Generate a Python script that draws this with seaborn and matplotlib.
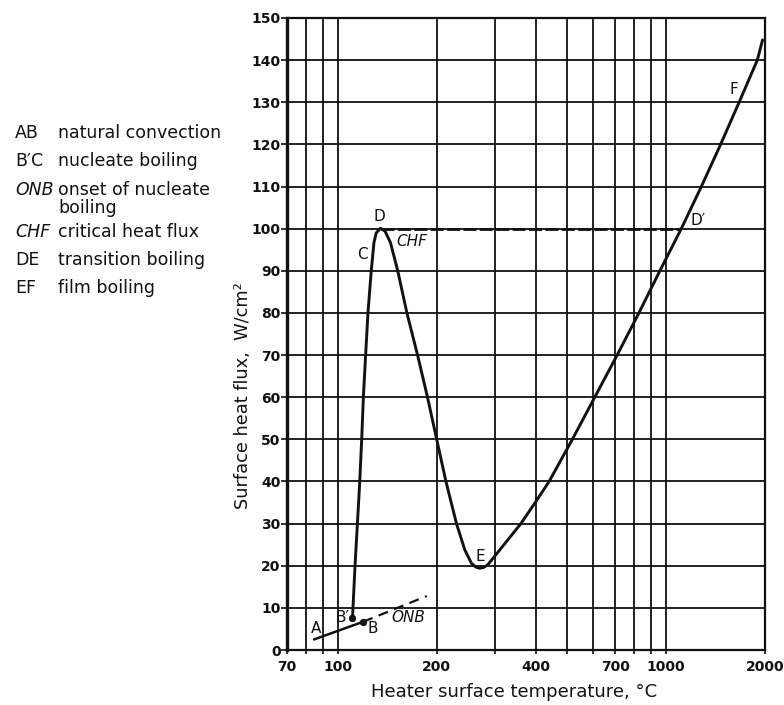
import matplotlib
matplotlib.use("Agg")
import matplotlib.pyplot as plt
from matplotlib.ticker import FixedLocator, NullFormatter, FixedFormatter
import pandas as pd
import seaborn as sns

# Natural convection A-B and its dashed extension (onset of nucleate boiling)
ab_temp = [84.6, 119.4]
ab_flux = [2.5, 6.7]
onb_temp = [119.4, 186.5]
onb_flux = [6.7, 12.8]

# Boiling curve B'-C-D-E-D'-F
boil_temp = [110.8, 112.8, 114.7, 116.6, 118.2, 119.6, 121.5, 123.5, 126.4, 128.8,
             130.9, 134.9, 139.2, 144.6, 152.2, 162.3, 174.9, 187.5, 200, 213.4,
             229.8, 243.5, 255.1, 263, 270.3, 278, 285.8, 300, 361, 400, 440,
             518, 606, 709, 826, 957, 1112, 1280, 1465, 1668, 1895, 1966]
boil_flux = [7.5, 20, 30, 40, 50, 60, 70, 80, 90, 96.7,
             99.0, 100.1, 99.4, 96.7, 90, 80, 70, 60, 50, 40,
             30, 23.8, 20.6, 19.7, 19.4, 19.6, 20.2, 22.2, 30, 35.1, 40,
             50, 60, 70, 80, 90, 100, 110, 120, 130, 140, 144.8]

# Critical heat flux level D - D'
chf_temp = [134.9, 1112]
chf_flux = [100, 100]

# Marked points B' and B
pt_temp = [110.8, 119.4]
pt_flux = [7.5, 6.7]

x_major = [70, 100, 200, 400, 700, 1000, 2000]
x_minor = [80, 90, 300, 500, 600, 800, 900]
y_ticks = list(range(0, 151, 10))

legend_keys = ["AB", "B\u2032C", "ONB", "", "CHF", "DE", "EF"]
legend_desc = ["natural convection", "nucleate boiling", "onset of nucleate",
               "boiling", "critical heat flux", "transition boiling", "film boiling"]
legend_italic = [False, False, True, False, True, False, False]

sns.set_theme(style="ticks")
plt.rcParams["font.family"] = ["DejaVu Sans"]

fig = plt.figure(figsize=(7.84, 7.05), dpi=100)
ax = fig.add_axes([287 / 784, 1 - 650 / 705, (765 - 287) / 784, (650 - 18) / 705])
ax.set_xscale("log")

ink = "#111111"
sns.lineplot(x=ab_temp, y=ab_flux, ax=ax, color=ink, lw=1.8, sort=False, estimator=None)
sns.lineplot(x=onb_temp, y=onb_flux, ax=ax, color=ink, lw=1.6, sort=False,
             estimator=None, linestyle=(0, (4.5, 3)))
sns.lineplot(x=boil_temp, y=boil_flux, ax=ax, color=ink, lw=2.1, sort=False, estimator=None)
sns.lineplot(x=chf_temp, y=chf_flux, ax=ax, color=ink, lw=2.0, sort=False,
             estimator=None, linestyle=(0, (4.7, 1.2)))
sns.scatterplot(x=pt_temp, y=pt_flux, ax=ax, color=ink, s=24, edgecolor=ink, zorder=5)

ax.set_xlim(70, 2000)
ax.set_ylim(0, 150)
ax.xaxis.set_major_locator(FixedLocator(x_major))
ax.xaxis.set_major_formatter(FixedFormatter([str(v) for v in x_major]))
ax.xaxis.set_minor_locator(FixedLocator(x_minor))
ax.xaxis.set_minor_formatter(NullFormatter())
ax.yaxis.set_major_locator(FixedLocator(y_ticks))

ax.grid(True, which="both", axis="x", color=ink, lw=1.3)
ax.grid(True, which="major", axis="y", color=ink, lw=1.3)
ax.set_axisbelow(True)
for s in ax.spines.values():
    s.set_color(ink)
    s.set_linewidth(1.6)
ax.spines["left"].set_linewidth(2.4)

ax.tick_params(axis="y", direction="out", length=4, width=1.2, colors=ink, labelsize=10, pad=0.5)
ax.tick_params(axis="x", which="both", direction="out", length=3, width=1.2, colors=ink,
               labelsize=10, pad=4)
for lab in ax.get_xticklabels() + ax.get_yticklabels():
    lab.set_fontweight("bold")

ax.set_xlabel("Heater surface temperature, \u00b0C", fontsize=13, color=ink, va="center")
ax.xaxis.set_label_coords((514 - 287) / 478, -(692 - 650) / 632)
ax.set_ylabel("Surface heat flux,  W/cm\u00b2", fontsize=12.8, color=ink, va="center")
ax.yaxis.set_label_coords((243 - 287) / 478, (650 - 396) / 632)

# Point labels
lbl = dict(color=ink, fontsize=11, ha="center", va="center")
ax.text(85.8, 5.0, "A", **lbl)
ax.text(103, 7.8, "B\u2032", **lbl)
ax.text(128, 5.0, "B", **lbl)
ax.text(163.5, 7.6, "ONB", style="italic", **lbl)
ax.text(118.4, 93.9, "C", **lbl)
ax.text(133.4, 103.0, "D", **lbl)
ax.text(168.2, 97.0, "CHF", style="italic", **lbl)
ax.text(271, 22.2, "E", **lbl)
ax.text(1255, 101.9, "D\u2032", **lbl)
ax.text(1609, 133.0, "F", **lbl)

# Key to the regions of the curve
rows_y = [133, 161, 190, 208, 232, 260, 288]
for key, desc, ital, py in zip(legend_keys, legend_desc, legend_italic, rows_y):
    fy = 1 - py / 705
    if key:
        fig.text(15 / 784, fy, key, fontsize=12.5, color=ink, va="center", ha="left",
                 style="italic" if ital else "normal")
    fig.text(58 / 784, fy, desc, fontsize=12.5, color=ink, va="center", ha="left")

fig.savefig("out.png", dpi=100, facecolor="white")
